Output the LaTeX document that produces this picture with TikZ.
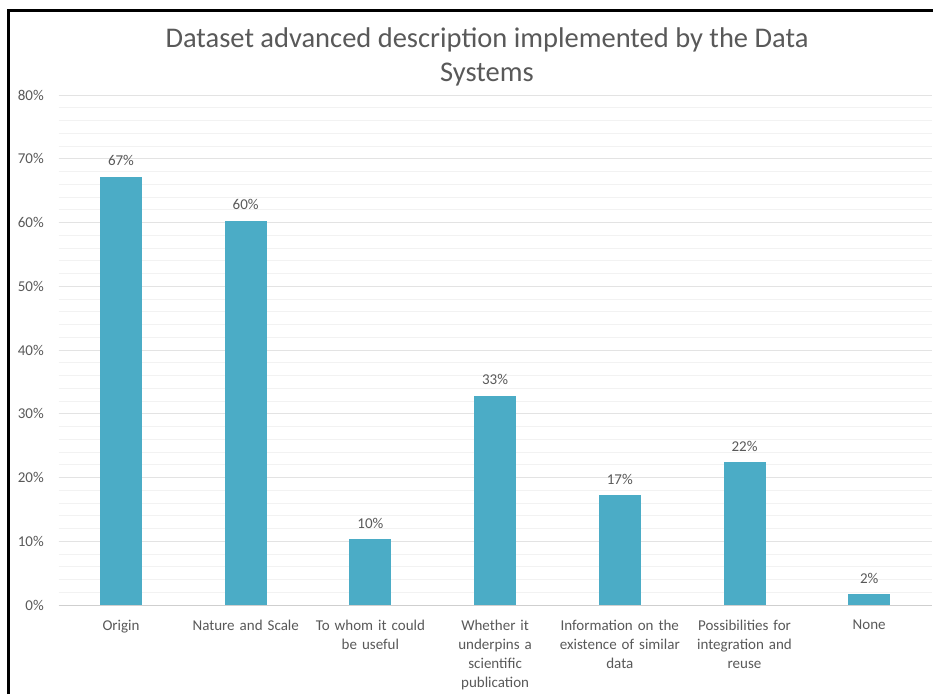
\documentclass[tikz,border=0pt]{standalone}
\usepackage{fontspec}
\setmainfont{Carlito}
\definecolor{bartc}{HTML}{4BACC6}
\definecolor{txtc}{HTML}{595959}
\definecolor{majg}{HTML}{E3E3E3}
\definecolor{ming}{HTML}{F2F2F2}
\begin{document}
\begin{tikzpicture}[x=1pt,y=-1pt,
  lbl/.style={text=txtc,font=\fontsize{15}{19}\selectfont,inner sep=0pt},
  ticklbl/.style={lbl,anchor=east},
  catlbl/.style={lbl,anchor=north,align=center,text width=124pt},
  barbox/.style={fill=bartc,draw=none}]
\useasboundingbox (0,0) rectangle (933,694);
\fill[white] (0,0) rectangle (933,694);
% gridlines
\foreach \v in {2,4,...,78}{
  \draw[ming,line width=1pt] (58.6,{605-\v*6.375}) -- (931.6,{605-\v*6.375});
}
\foreach \v in {10,20,...,80}{
  \draw[majg,line width=1pt] (58.6,{605-\v*6.375}) -- (931.6,{605-\v*6.375});
}
\draw[majg!80!gray,line width=1pt] (58.6,605) -- (931.6,605);
% tick labels
\foreach \v in {0,10,...,80}{
  \node[ticklbl] (t\v) at (44,{605-\v*6.375}) {\v\%};
}
% bars
\foreach \i/\val/\lab in {0/67.2/67,1/60.3/60,2/10.3/10,3/32.8/33,4/17.2/17,5/22.4/22,6/1.7/2}{
  \pgfmathsetmacro{\cx}{121+\i*124.7}
  \pgfmathsetmacro{\ty}{605-\val*6.375}
  \fill[bartc] (\cx-21,605) rectangle (\cx+21,\ty);
  \node[lbl] (d\i) at (\cx,\ty-16) {\lab\%};
}
% category labels
\foreach \i/\txt in {0/Origin,1/Nature and Scale,2/{To whom it could\\be useful},3/{Whether it\\underpins a\\scientific\\publication},4/{Information on the\\existence of similar\\data},5/{Possibilities for\\integration and\\reuse},6/None}{
  \pgfmathsetmacro{\cx}{121+\i*124.7}
  \node[catlbl] (c\i) at (\cx,620) {\txt};
}
% title
\node[text=txtc,font=\fontsize{28.5}{34}\selectfont,align=center,inner sep=0pt] (title) at (487,57) {Dataset advanced description implemented by the Data\\Systems};
% border
\draw[black,line width=3pt] (8,694) -- (8,10) -- (933,10);
\end{tikzpicture}
\end{document}
